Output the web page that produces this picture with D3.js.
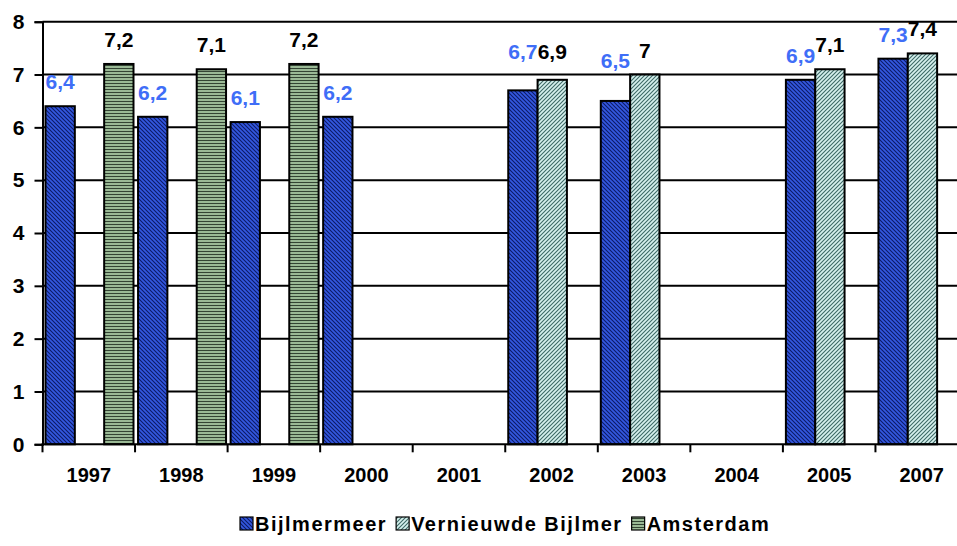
<!DOCTYPE html>
<html>
<head>
<meta charset="utf-8">
<script src="https://cdn.jsdelivr.net/npm/d3@7"></script>
<style>
  html, body { margin: 0; padding: 0; background: #fff; }
  svg { display: block; font-family: "Liberation Sans", Arial, sans-serif; }
</style>
</head>
<body>
<svg id="chart" width="957" height="546"></svg>
<script>
// Survey scores per year for three areas
const years = ["1997", "1998", "1999", "2000", "2001", "2002", "2003", "2004", "2005", "2007"];
const seriesNames = ["Bijlmermeer", "Vernieuwde Bijlmer", "Amsterdam"];
const bijlmermeer = [6.4, 6.2, 6.1, 6.2, null, 6.7, 6.5, null, 6.9, 7.3];
const vernieuwdeBijlmer = [null, null, null, null, null, 6.9, 7.0, null, 7.1, 7.4];
const amsterdam = [7.2, 7.1, 7.2, null, null, null, null, null, null, null];
const yTicks = [0, 1, 2, 3, 4, 5, 6, 7, 8];

const seriesValues = [bijlmermeer, vernieuwdeBijlmer, amsterdam];

const svg = d3.select("#chart");
const W = 957, H = 546;
const plotLeft = 42.5, plotTop = 21.7, plotBottom = 444.3;
const step = 92.55;
const FONT = "Liberation Sans, Arial, sans-serif";

// Hatch fills
const defs = svg.append("defs");
function diag(id, bg, fg, dir) {
  const p = defs.append("pattern").attr("id", id)
    .attr("patternUnits", "userSpaceOnUse").attr("width", 4).attr("height", 4);
  p.append("rect").attr("width", 4).attr("height", 4).attr("fill", bg);
  const d = dir > 0 ? "M-1,1 l2,-2 M0,4 l4,-4 M3,5 l2,-2" : "M-1,3 l2,2 M0,0 l4,4 M3,-1 l2,2";
  p.append("path").attr("d", d).attr("stroke", fg).attr("stroke-width", 1.1);
}
diag("pat-bijl", "#3358e0", "#0c1a66", -1);
diag("pat-vern", "#d6f1ee", "#3d6966", 1);
const ph = defs.append("pattern").attr("id", "pat-ams")
  .attr("patternUnits", "userSpaceOnUse").attr("width", 4).attr("height", 3);
ph.append("rect").attr("width", 4).attr("height", 3).attr("fill", "#9ab995");
ph.append("rect").attr("y", 2).attr("width", 4).attr("height", 1).attr("fill", "#334433");
const fills = ["url(#pat-bijl)", "url(#pat-vern)", "url(#pat-ams)"];
const labelColors = ["#3f6ef7", "#000", "#000"];

svg.append("rect").attr("width", W).attr("height", H).attr("fill", "#fff");

const x = d3.scaleBand().domain(years).range([plotLeft, plotLeft + step * years.length]).padding(0);
const sub = d3.scaleBand().domain(seriesNames).range([3, 91]).padding(0);
const y = d3.scaleLinear().domain([0, 8]).range([plotBottom, plotTop]);

// Gridlines
svg.append("g").selectAll("line").data(yTicks.filter(t => t > 0)).join("line")
  .attr("x1", plotLeft).attr("x2", W + 20)
  .attr("y1", d => y(d)).attr("y2", d => y(d))
  .attr("stroke", "#000").attr("stroke-width", 2);

// Y axis
const yAxis = svg.append("g").attr("transform", `translate(${plotLeft},0)`)
  .call(d3.axisLeft(y).tickValues(yTicks).tickSize(8).tickPadding(10).tickFormat(d3.format("d")));
yAxis.attr("font-size", 21).attr("font-family", FONT);
yAxis.select(".domain").attr("stroke", "#000").attr("stroke-width", 2);
yAxis.selectAll(".tick line").attr("stroke", "#000").attr("stroke-width", 2);
yAxis.selectAll(".tick text").attr("font-weight", "bold").attr("fill", "#000");

// Bars
const fmt = v => Number.isInteger(v) ? String(v) : d3.format(".1f")(v).replace(".", ",");
const labelNudge = { "Bijlmermeer|2002": -14, "Bijlmermeer|2003": -16, "Vernieuwde Bijlmer|2002": -4 };

seriesNames.forEach((name, si) => {
  const pts = years.map((yr, i) => ({ yr, v: seriesValues[si][i] })).filter(d => d.v != null);
  const g = svg.append("g");
  g.selectAll("rect").data(pts).join("rect")
    .attr("x", d => x(d.yr) + sub(name))
    .attr("width", sub.bandwidth())
    .attr("y", d => y(d.v))
    .attr("height", d => y(0) - y(d.v))
    .attr("fill", fills[si])
    .attr("stroke", "#000").attr("stroke-width", 2);
  g.selectAll("text").data(pts).join("text")
    .attr("x", d => x(d.yr) + sub(name) + sub.bandwidth() / 2)
    .attr("y", d => y(d.v) - 17 + (labelNudge[name + "|" + d.yr] || 0))
    .attr("text-anchor", "middle")
    .attr("font-size", 21).attr("font-weight", "bold")
    .attr("fill", labelColors[si])
    .text(d => fmt(d.v));
});

// X axis
const xAxis = svg.append("g").attr("transform", `translate(0,${plotBottom})`)
  .call(d3.axisBottom(x).tickSize(0).tickPadding(24));
xAxis.attr("font-size", 20).attr("font-family", FONT);
xAxis.select(".domain").remove();
svg.append("line").attr("x1", plotLeft - 1).attr("x2", W + 20).attr("y1", plotBottom).attr("y2", plotBottom)
  .attr("stroke", "#000").attr("stroke-width", 2);
xAxis.selectAll(".tick text").attr("font-weight", "bold").attr("fill", "#000");
svg.append("g").selectAll("line").data(years).join("line")
  .attr("x1", d => x(d)).attr("x2", d => x(d))
  .attr("y1", plotBottom).attr("y2", plotBottom + 8)
  .attr("stroke", "#000").attr("stroke-width", 2);

// Legend
const legend = svg.append("g").attr("transform", "translate(240,531)");
let lx = 0;
seriesNames.forEach((name, si) => {
  legend.append("rect").attr("x", lx).attr("y", -14).attr("width", 13).attr("height", 13)
    .attr("fill", fills[si]).attr("stroke", "#000").attr("stroke-width", 1.2);
  const t = legend.append("text").attr("x", lx + 15).attr("y", 0)
    .attr("font-size", 20).attr("font-weight", "bold").attr("letter-spacing", 1.5)
    .attr("fill", "#000").text(name);
  lx += 15 + t.node().getComputedTextLength() + 9;
});
</script>
</body>
</html>
